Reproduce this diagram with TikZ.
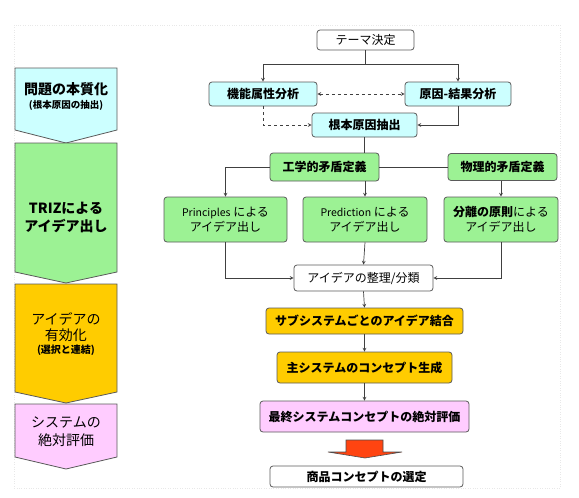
\documentclass[tikz,border=0pt]{standalone}
\usepackage{fontspec}
\setmainfont{Noto Sans CJK JP}
\usepackage{tikz}
\usetikzlibrary{calc}
\tikzset{>=stealth}
\definecolor{cyanbox}{HTML}{CCFFFF}
\definecolor{greenbox}{HTML}{9CF294}
\definecolor{goldbox}{HTML}{FFCC00}
\definecolor{pinkbox}{HTML}{FFCCFF}
\definecolor{edgegray}{HTML}{5A5A5A}
\definecolor{redarrow}{HTML}{FF4411}
\tikzset{
  box/.style={draw=edgegray, rounded corners=3pt, line width=0.8pt, align=center,
    inner sep=0pt, font=\fontsize{12}{15}\selectfont},
  boldbox/.style={box, font=\fontsize{12}{15}\selectfont\bfseries},
  link/.style={draw=black!75, line width=0.7pt},
  chev/.style={draw=edgegray, line width=0.8pt},
  chevtext/.style={align=center, font=\fontsize{14}{18}\selectfont}
}

\begin{document}
\begin{tikzpicture}[x=1pt,y=-1pt]
    \useasboundingbox (0,0) rectangle (579,498);
    \draw[gray!18, dotted] (14,25) rectangle (560,488);

    % left column
    \filldraw[chev, fill=cyanbox] (15,68) -- (117,68) -- (117,130) -- (66,143) -- (15,130) -- cycle;
    \filldraw[chev, fill=greenbox] (15,143) -- (117,143) -- (117,272) -- (66,283) -- (15,272) -- cycle;
    \filldraw[chev, fill=goldbox] (15,284) -- (117,284) -- (117,392) -- (66,403) -- (15,392) -- cycle;
    \filldraw[chev, fill=pinkbox] (15,404) -- (117,404) -- (117,457) -- (66,469) -- (15,457) -- cycle;
    \node[chevtext] at (66,96) (honshitsu) {\bfseries 問題の本質化\\[-4pt]
        {\fontsize{9.5}{11}\selectfont\bfseries (根本原因の抽出)}};
    \node[chevtext] at (66,217) (triz) {\bfseries TRIZによる\\\bfseries アイデア出し};
    \node[chevtext] at (66,334) (yuko) {アイデアの\\[-2pt]有効化\\[-5pt]
        {\fontsize{10}{12}\selectfont\bfseries (選択と連結)}};
    \node[chevtext] at (66,432) (hyoka) {システムの\\絶対評価};

    % right flow
    \node[box, fill=white, minimum width=97pt, minimum height=20pt] at (365.5,40) (theme) {テーマ決定};
    \node[boldbox, fill=cyanbox, minimum width=108pt, minimum height=24pt] at (263,94) (kino) {機能属性分析};
    \node[boldbox, fill=cyanbox, minimum width=106pt, minimum height=24pt] at (458,94) (genin) {原因-結果分析};
    \node[boldbox, fill=cyanbox, minimum width=105pt, minimum height=24pt] at (364.5,125) (kompon) {根本原因抽出};
    \node[boldbox, fill=greenbox, minimum width=109pt, minimum height=28pt] at (324.5,167) (kogaku) {工学的矛盾定義};
    \node[boldbox, fill=greenbox, minimum width=109pt, minimum height=27pt] at (502.5,167) (butsuri) {物理的矛盾定義};
    \node[box, fill=greenbox, minimum width=123pt, minimum height=45pt] at (225.5,219.5) (principles) {{\fontsize{10.5}{12}\selectfont Principles} による\\アイデア出し};
    \node[box, fill=greenbox, minimum width=124pt, minimum height=45pt] at (365,219.5) (prediction) {{\fontsize{10.5}{12}\selectfont Prediction} による\\アイデア出し};
    \node[box, fill=greenbox, minimum width=114pt, minimum height=45pt] at (501,219.5) (bunri) {{\bfseries 分離の原則}による\\アイデア出し};
    \node[box, fill=white, minimum width=139pt, minimum height=26pt] at (363.5,278) (seiri) {アイデアの整理/分類};
    \node[boldbox, fill=goldbox, minimum width=197pt, minimum height=26pt] at (364.5,321) (ketsugo) {サブシステムごとのアイデア結合};
    \node[boldbox, fill=goldbox, minimum width=175pt, minimum height=31pt] at (364.5,367.5) (seisei) {主システムのコンセプト生成};
    \node[boldbox, fill=pinkbox, minimum width=209pt, minimum height=31pt] at (364.5,416.5) (saishu) {最終システムコンセプトの絶対評価};
    \node[boldbox, fill=white, minimum width=193pt, minimum height=21pt] at (366.5,476.5) (shohin) {商品コンセプトの選定};

    % connectors
    \draw[link,->] (theme.south) -- ++(0,14) -| (kino.north);
    \draw[link,->] (theme.south) -- ++(0,14) -| (genin.north);
    \draw[link,dashed,<->] (kino.east) -- (genin.west);
    \draw[link,dashed,->] (kino.south) |- (kompon.west);
    \draw[link,->] (genin.south) |- (kompon.east);
    \draw[link] (kompon.south) -- (kompon.south |- kogaku.north);
    \draw[link] (kogaku.east) -- (butsuri.west);
    \draw[link,->] (kogaku.west) -| (principles.north);
    \draw[link,->] (kogaku.south -| prediction.north) -- (prediction.north);
    \draw[link,->] (butsuri.south -| bunri.north) -- (bunri.north);
    \draw[link,->] (principles.south) |- (seiri.west);
    \draw[link,->] (prediction.south) -- (seiri.north);
    \draw[link,->] (bunri.south) |- (seiri.east);
    \draw[link,->] (seiri.south) -- (ketsugo.north);
    \draw[link,->] (ketsugo.south) -- (seisei.north);
    \draw[link,->] (seisei.south) -- (saishu.north);

    % big arrow
    \filldraw[fill=redarrow, draw=black!70, line width=0.6pt] (346,440) -- (383,440) -- (383,452) -- (402,452)
        -- (365,458) -- (328,452) -- (346,452) -- cycle;
\end{tikzpicture}
\end{document}
